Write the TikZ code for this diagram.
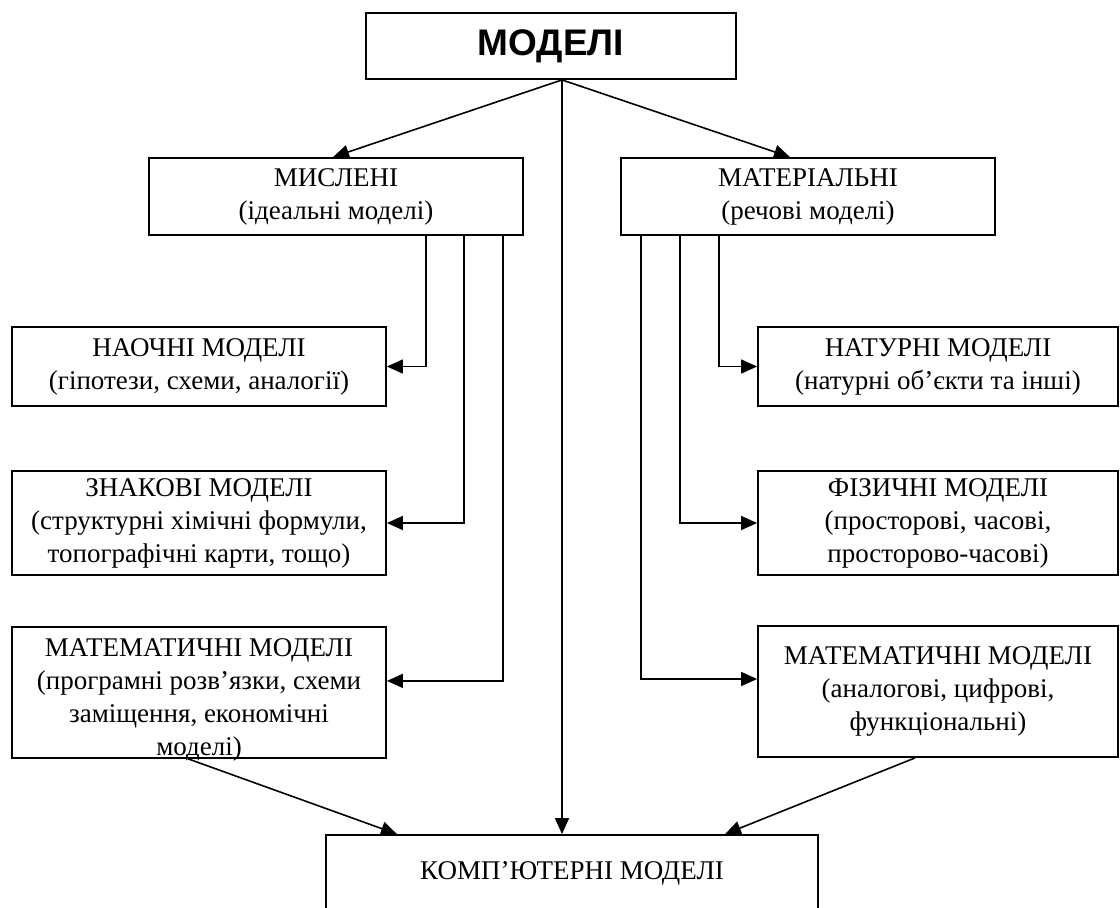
\documentclass[tikz,border=0pt]{standalone}
\usepackage{fontspec}
\setmainfont{Liberation Serif}
\newfontfamily\titlefont{Liberation Sans}
\usepackage{tikz}
\usetikzlibrary{arrows.meta,positioning}

\begin{document}
\begin{tikzpicture}[x=0.5pt,y=-0.5pt,
  model/.style={draw,rectangle,line width=0.9pt,align=center,inner sep=0pt,font=\fontsize{13.5}{16.5}\selectfont},
  wide/.style={model,minimum width=187pt},
  side/.style={model,minimum width=180pt},
  head/.style={draw,rectangle,line width=0.9pt,minimum width=185pt,minimum height=33pt,font=\titlefont\bfseries\fontsize{18.5}{22}\selectfont},
  arr/.style={-{Triangle[length=8pt,width=7pt]},line width=0.8pt}
]
\useasboundingbox (0,0) rectangle (1120,907);
\clip (0,0) rectangle (1120,907);

% Top level
\node[head] (models) at (551,46) {МОДЕЛІ};

% Two kinds of models
\node[wide,minimum height=38.5pt] (mental) at (336,196.5) {МИСЛЕНІ\\(ідеальні моделі)};
\node[wide,minimum height=38.5pt] (material) at (808,196.5) {МАТЕРІАЛЬНІ\\(речові моделі)};

% Left column: mental models
\node[wide,minimum height=39.5pt] (visual) at (199,366.5) {НАОЧНІ МОДЕЛІ\\(гіпотези, схеми, аналогії)};
\node[wide,minimum height=52pt] (sign) at (199,523) {ЗНАКОВІ МОДЕЛІ\\(структурні хімічні формули,\\топографічні карти, тощо)};
\node[wide,anchor=north,text height=64.5pt,text depth=1pt] (mathl) at (199,626) {МАТЕМАТИЧНІ МОДЕЛІ\\(програмні розв’язки, схеми\\заміщення, економічні\\моделі)};

% Right column: material models
\node[side,minimum height=39.5pt] (natural) at (938,366.5) {НАТУРНІ МОДЕЛІ\\(натурні об’єкти та інші)};
\node[side,minimum height=52pt] (physical) at (938,523) {ФІЗИЧНІ МОДЕЛІ\\(просторові, часові,\\просторово-часові)};
\node[side,minimum height=65.5pt] (mathr) at (938,691.5) {МАТЕМАТИЧНІ МОДЕЛІ\\(аналогові, цифрові,\\функціональні)};

% Bottom
\node[model,minimum width=246pt,minimum height=38.5pt] (computer) at (572,873.5) {КОМП’ЮТЕРНІ МОДЕЛІ};

% Arrows from the top
\draw[arr] ([xshift=5.5pt]models.south) -- ([xshift=-1.5pt]mental.north);
\draw[arr] ([xshift=5.5pt]models.south) -- ([xshift=-9pt]material.north);
\draw[arr] ([xshift=5.5pt]models.south) -- ([xshift=5.5pt]models.south |- computer.north);

% Left branches
\draw[arr] ([xshift=45pt]mental.south) |- (visual.east);
\draw[arr] ([xshift=64pt]mental.south) |- (sign.east);
\draw[arr] ([xshift=83.5pt]mental.south) |- ([yshift=5.75pt]mathl.east);

% Right branches
\draw[arr] ([xshift=-44.5pt]material.south) |- (natural.west);
\draw[arr] ([xshift=-64pt]material.south) |- (physical.west);
\draw[arr] ([xshift=-83.5pt]material.south) |- ([yshift=6.25pt]mathr.west);

% Into computer models
\draw[arr] ([xshift=-5.5pt]mathl.south) -- ([xshift=-87.5pt]computer.north);
\draw[arr] ([xshift=-11.5pt]mathr.south) -- ([xshift=76.5pt]computer.north);

\end{tikzpicture}
\end{document}
